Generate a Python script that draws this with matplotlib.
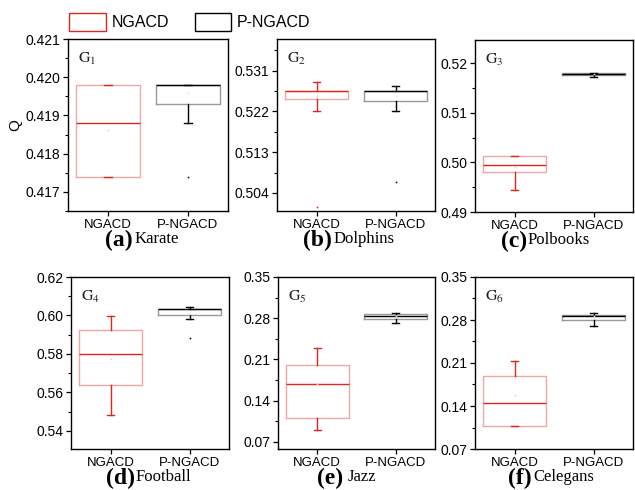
import matplotlib
matplotlib.use('Agg')
import matplotlib.pyplot as plt
from matplotlib.patches import Patch
from matplotlib.ticker import AutoMinorLocator, FormatStrFormatter, FixedLocator

plt.rcParams['font.family'] = ['Liberation Sans', 'DejaVu Sans']
plt.rcParams['mathtext.fontset'] = 'stix'

methods = ['NGACD', 'P-NGACD']
letters = ['a', 'b', 'c', 'd', 'e', 'f']
networks = ['Karate', 'Dolphins', 'Polbooks', 'Football', 'Jazz', 'Celegans']

# box statistics of Q for every network (NGACD)
ngacd_q1 = [0.4174, 0.5247, 0.4980, 0.5639, 0.1108, 0.1080]
ngacd_med = [0.4188, 0.5266, 0.4994, 0.5800, 0.1685, 0.1449]
ngacd_q3 = [0.4198, 0.5266, 0.5012, 0.5925, 0.1999, 0.1882]
ngacd_lo = [0.4174, 0.5220, 0.4945, 0.5483, 0.0906, 0.1080]
ngacd_hi = [0.4198, 0.5286, 0.5012, 0.5997, 0.2292, 0.2126]
ngacd_mean = [0.41862, 0.5255, 0.4990, 0.5775, 0.1690, 0.1580]
ngacd_out = [[], [0.5009], [], [], [], []]

# box statistics of Q for every network (P-NGACD)
pngacd_q1 = [0.4193, 0.5244, 0.5177, 0.6003, 0.2795, 0.2800]
pngacd_med = [0.4198, 0.5266, 0.5178, 0.6034, 0.2839, 0.2865]
pngacd_q3 = [0.4198, 0.5266, 0.5180, 0.6034, 0.2873, 0.2875]
pngacd_lo = [0.4188, 0.5220, 0.5173, 0.5982, 0.2711, 0.2702]
pngacd_hi = [0.4198, 0.5276, 0.5180, 0.6042, 0.2895, 0.2914]
pngacd_mean = [0.4196, 0.5255, 0.5178, 0.6005, 0.2840, 0.2860]
pngacd_out = [[0.4174], [0.5064], [], [0.5881], [], []]

# y axis ranges and ticks
ylims = [(0.4165, 0.421), (0.500, 0.538), (0.490, 0.5247),
         (0.5305, 0.620), (0.058, 0.350), (0.070, 0.350)]
yticks = [[0.417, 0.418, 0.419, 0.420, 0.421],
          [0.504, 0.513, 0.522, 0.531],
          [0.49, 0.50, 0.51, 0.52],
          [0.54, 0.56, 0.58, 0.60, 0.62],
          [0.07, 0.14, 0.21, 0.28, 0.35],
          [0.07, 0.14, 0.21, 0.28, 0.35]]
yfmt = ['%.3f', '%.3f', '%.2f', '%.2f', '%.2f', '%.2f']

red = '#e0261c'
pink = '#f2a7a5'
grey = '#9a9a9a'

W, H = 635, 490
fig = plt.figure(figsize=(W / 100, H / 100), dpi=100)

# axes boxes in pixels: left, top, right, bottom
boxes = [(68, 39, 228, 211), (277, 39, 435, 211), (475, 40, 633, 212),
         (71, 277, 229, 449), (278, 277, 435, 449), (475, 277, 633, 449)]
lab_x = [0.406, 0.348, 0.33, 0.405, 0.414, 0.36]
name_gap = [0.008, 0.008, 0.005, 0.003, 0.03, 0.012]

for i in range(6):
    l, t, r, b = boxes[i]
    ax = fig.add_axes([l / W, 1 - b / H, (r - l) / W, (b - t) / H])

    s1 = dict(q1=ngacd_q1[i], med=ngacd_med[i], q3=ngacd_q3[i],
              whislo=ngacd_lo[i], whishi=ngacd_hi[i], mean=ngacd_mean[i],
              fliers=ngacd_out[i])
    s2 = dict(q1=pngacd_q1[i], med=pngacd_med[i], q3=pngacd_q3[i],
              whislo=pngacd_lo[i], whishi=pngacd_hi[i], mean=pngacd_mean[i],
              fliers=pngacd_out[i])

    for pos, st, ec, lc, mc in [(1, s1, pink, red, '#f7c6c4'),
                                (2, s2, grey, 'black', '#e0e0e0')]:
        ax.bxp([st], positions=[pos], widths=0.8, capwidths=0.09,
               showmeans=True, showfliers=True,
               boxprops=dict(color=ec, linewidth=1.0),
               medianprops=dict(color=lc, linewidth=1.0),
               whiskerprops=dict(color=lc, linewidth=1.0),
               capprops=dict(color=lc, linewidth=1.0),
               meanprops=dict(marker='s', markersize=0.8, markerfacecolor=mc,
                              markeredgecolor=mc, markeredgewidth=0.3),
               flierprops=dict(marker='s', markersize=0.8, markerfacecolor=lc,
                               markeredgecolor=lc, markeredgewidth=0.3))

    ax.set_xlim(0.5, 2.5)
    ax.set_ylim(*ylims[i])
    ax.set_xticks([1, 2])
    ax.set_xticklabels(methods, fontsize=9.5)
    ax.yaxis.set_major_locator(FixedLocator(yticks[i]))
    ax.yaxis.set_major_formatter(FormatStrFormatter(yfmt[i]))
    ax.yaxis.set_minor_locator(AutoMinorLocator(2))
    ax.tick_params(axis='y', labelsize=10, length=3.5, width=0.9, direction='out', pad=2)
    ax.tick_params(axis='y', which='minor', length=2, width=0.8)
    ax.tick_params(axis='x', length=3.5, width=0.9, direction='out', pad=2)
    for sp in ax.spines.values():
        sp.set_linewidth(1.0)

    ax.text(0.065, 0.93, r'$\mathrm{G}_{%d}$' % (i + 1), transform=ax.transAxes,
            fontsize=11.5, ha='left', va='top', color='#222222')

    # panel caption under the axis: bold letter followed by the network name
    ax.text(lab_x[i], -0.172, '(%s)' % letters[i], transform=ax.transAxes,
            family='Liberation Serif', fontweight='bold', fontsize=17,
            ha='right', va='center')
    ax.text(lab_x[i] + name_gap[i], -0.165, networks[i], transform=ax.transAxes,
            family='Liberation Serif', fontsize=12, ha='left', va='center')

    if i == 0:
        ax.set_ylabel('Q', fontsize=11, labelpad=2)

handles = [Patch(facecolor='white', edgecolor=red, linewidth=1.0),
           Patch(facecolor='white', edgecolor='black', linewidth=1.0)]
fig.legend(handles, methods, loc='upper left', bbox_to_anchor=(58 / W, 1 - 2 / H),
           ncol=2, frameon=False, fontsize=11.5, handlelength=2.3,
           handleheight=1.3, handletextpad=0.35, columnspacing=1.6,
           borderpad=0.2)

fig.savefig('out.png', dpi=100)
